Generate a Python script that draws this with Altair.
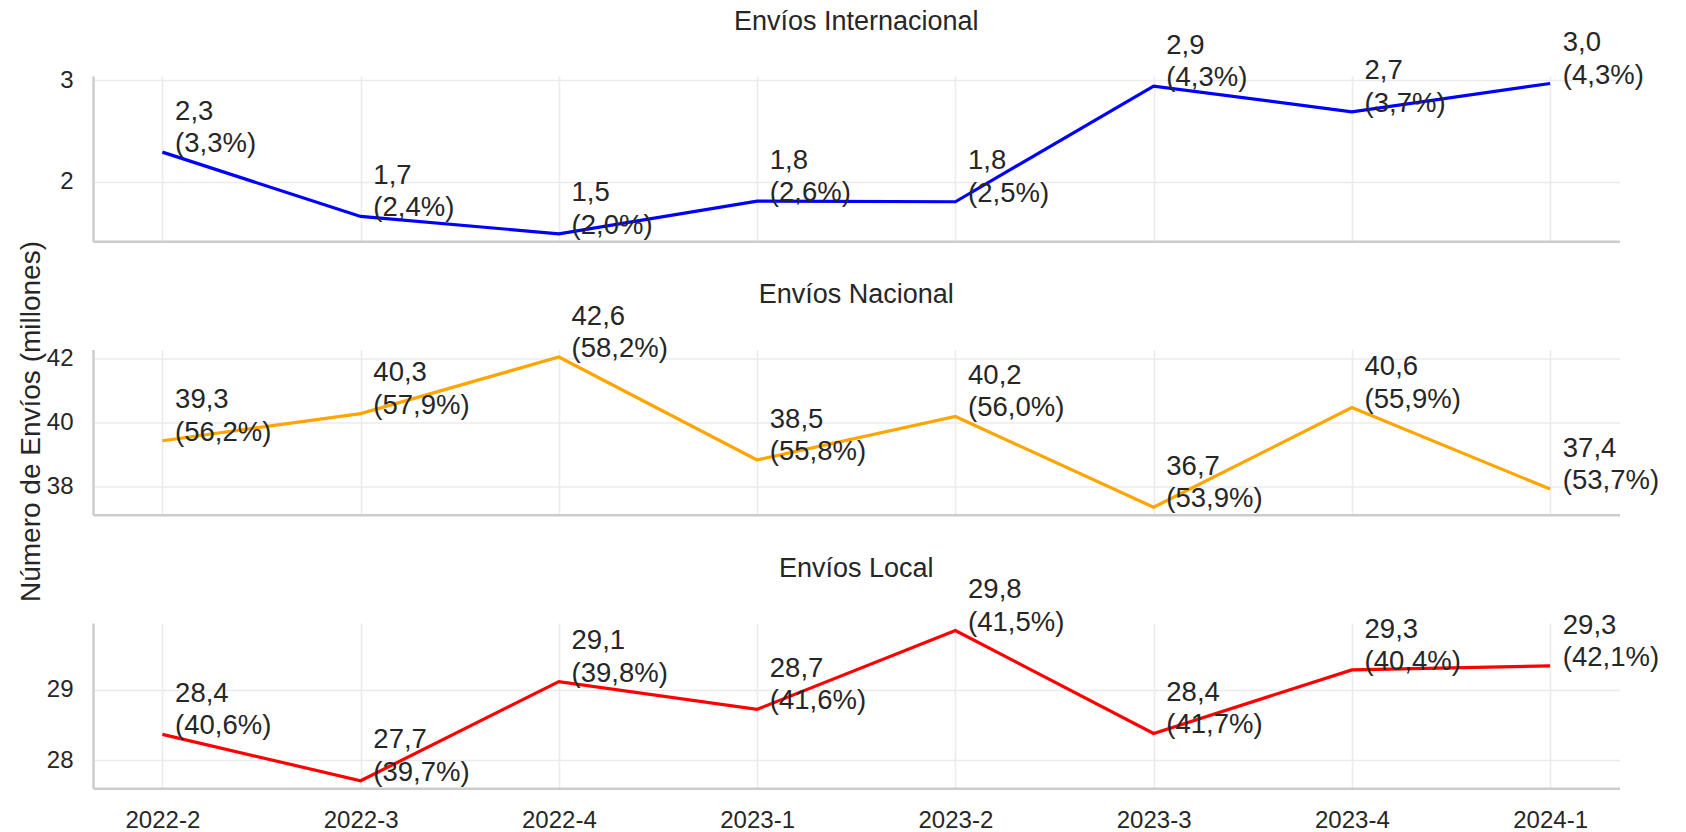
import altair as alt
import pandas as pd

periods = ["2022-2", "2022-3", "2022-4", "2023-1", "2023-2", "2023-3", "2023-4", "2024-1"]

intl_values = [2.293, 1.658, 1.487, 1.809, 1.803, 2.945, 2.691, 2.970]
intl_value_labels = ["2,3", "1,7", "1,5", "1,8", "1,8", "2,9", "2,7", "3,0"]
intl_pct_labels = ["3,3%", "2,4%", "2,0%", "2,6%", "2,5%", "4,3%", "3,7%", "4,3%"]

nac_values = [39.43, 40.28, 42.05, 38.83, 40.19, 37.35, 40.47, 37.92]
nac_value_labels = ["39,3", "40,3", "42,6", "38,5", "40,2", "36,7", "40,6", "37,4"]
nac_pct_labels = ["56,2%", "57,9%", "58,2%", "55,8%", "56,0%", "53,9%", "55,9%", "53,7%"]

local_values = [28.367, 27.705, 29.12, 28.724, 29.848, 28.38, 29.286, 29.343]
local_value_labels = ["28,4", "27,7", "29,1", "28,7", "29,8", "28,4", "29,3", "29,3"]
local_pct_labels = ["40,6%", "39,7%", "39,8%", "41,6%", "41,5%", "41,7%", "40,4%", "42,1%"]

panel_titles = ["Envíos Internacional", "Envíos Nacional", "Envíos Local"]
y_title = "Número de Envíos (millones)"

FONT = "Liberation Sans"
TXT = "#262626"
W = 1526.5
H = 165.3
LH = 32.3


def panel(title, values, vlabels, plabels, color, ticks, show_x_labels, ylabel=None):
    df = pd.DataFrame({
        "periodo": periods,
        "envios": values,
        "label": [f"{v}\n({p})" for v, p in zip(vlabels, plabels)],
    })
    lo, hi = min(values), max(values)
    m = 0.05 * (hi - lo)
    x = alt.X(
        "periodo:N", sort=periods,
        scale=alt.Scale(type="point", padding=0.35),
        axis=alt.Axis(title=None, labels=show_x_labels, grid=True, ticks=False,
                      domain=True, labelAngle=0, labelPadding=20),
    )
    y = alt.Y(
        "envios:Q",
        scale=alt.Scale(domain=[lo - m, hi + m], nice=False, zero=False),
        axis=alt.Axis(title=None, values=ticks, grid=True, ticks=False,
                      labelPadding=20, format=".0f"),
    )
    base = alt.Chart(df)
    line = base.mark_line(color=color, strokeWidth=3.2).encode(x=x, y=y)
    text = base.mark_text(
        align="left", baseline="alphabetic", dx=12.7, dy=-LH, fontSize=27.5,
        lineHeight=LH, lineBreak="\n", color=TXT, font=FONT,
    ).encode(x=x, y=y, text="label:N")
    ttl = alt.Chart(pd.DataFrame({"t": [title]})).mark_text(
        align="center", baseline="alphabetic", fontSize=27, color=TXT, font=FONT,
    ).encode(text="t:N", x=alt.value(W / 2), y=alt.value(-46.3))
    layers = [line, text, ttl]
    if ylabel:
        yl = alt.Chart(pd.DataFrame({"t": [ylabel]})).mark_text(
            align="center", baseline="alphabetic", fontSize=28, angle=270,
            color=TXT, font=FONT,
        ).encode(text="t:N", x=alt.value(-53), y=alt.value(72))
        layers.append(yl)
    return alt.layer(*layers).properties(width=W, height=H)


p1 = panel(panel_titles[0], intl_values, intl_value_labels, intl_pct_labels,
           "#0000ff", [2, 3], False)
p2 = panel(panel_titles[1], nac_values, nac_value_labels, nac_pct_labels,
           "#ffa500", [38, 40, 42], False, ylabel=y_title)
p3 = panel(panel_titles[2], local_values, local_value_labels, local_pct_labels,
           "#ff0000", [28, 29], True)

chart = alt.VConcatChart(
    vconcat=[p1, p2, p3], spacing=107.5, bounds="flush",
).resolve_scale(y="independent").properties(
    padding={"left": 9, "top": -1, "right": 10, "bottom": 0},
    background="white",
).configure_view(stroke=None).configure_axis(
    domainColor="#cccccc", domainWidth=2.5,
    gridColor="#ebebeb", gridWidth=1.6,
    labelColor=TXT, labelFont=FONT, labelFontSize=24,
)

chart.save("out.html", embed_options={"renderer": "svg", "actions": False})
